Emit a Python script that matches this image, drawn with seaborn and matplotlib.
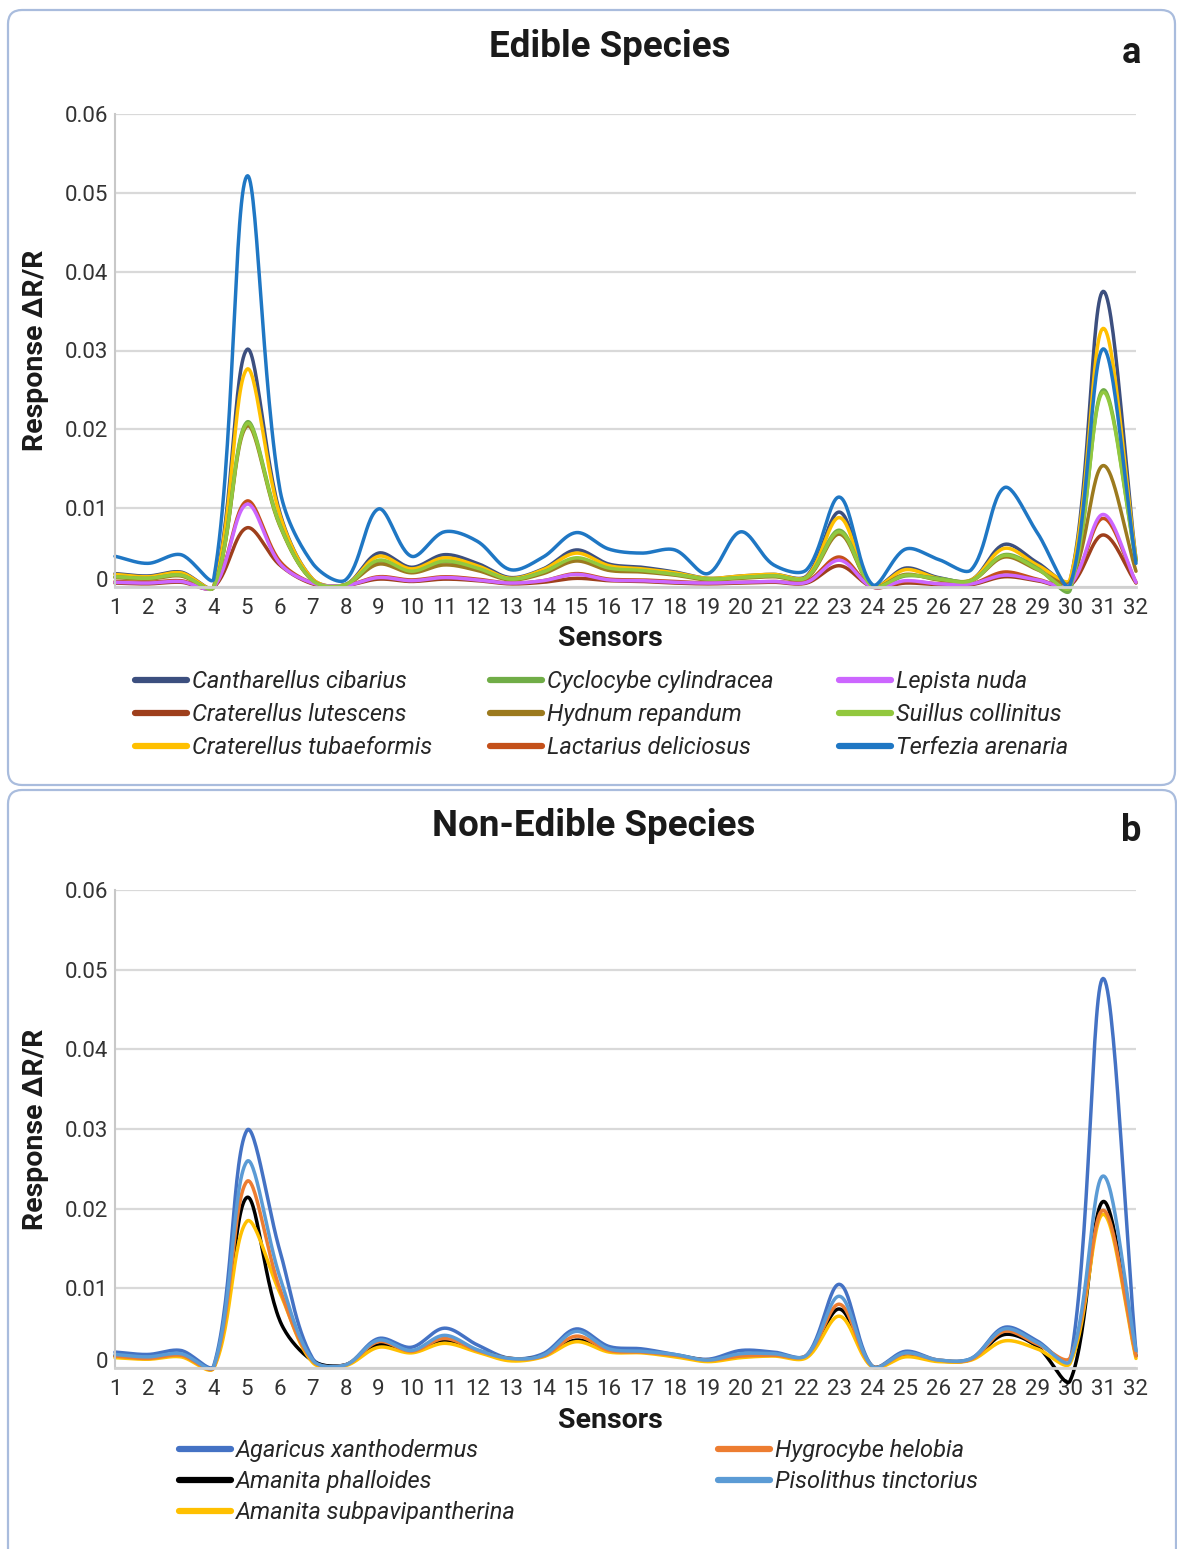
import numpy as np
import pandas as pd
import matplotlib
matplotlib.use("Agg")
import matplotlib.pyplot as plt
import seaborn as sns
from matplotlib import font_manager
from matplotlib.lines import Line2D
from matplotlib.patches import FancyBboxPatch
from matplotlib.transforms import ScaledTranslation

# ---------------- data ----------------
sensors = list(range(1, 33))
y_ticks = [0, 0.01, 0.02, 0.03, 0.04, 0.05, 0.06]
y_tick_labels = ["0", "0.01", "0.02", "0.03", "0.04", "0.05", "0.06"]

edible_names = ["Cantharellus cibarius", "Craterellus lutescens", "Craterellus tubaeformis",
                "Cyclocybe cylindracea", "Hydnum repandum", "Lactarius deliciosus",
                "Lepista nuda", "Suillus collinitus", "Terfezia arenaria"]

cantharellus_cibarius = [0.0017, 0.0014, 0.0019, 0.0001, 0.0301, 0.0095, 0.0010, 0.0003, 0.0043, 0.0025,
                         0.0041, 0.0030, 0.0012, 0.0023, 0.0047, 0.0029, 0.0025, 0.0019, 0.0011, 0.0014,
                         0.0016, 0.0014, 0.0095, 0.0001, 0.0024, 0.0012, 0.0009, 0.0054, 0.0031, 0.0008,
                         0.0375, 0.0035]
craterellus_lutescens = [0.0005, 0.0004, 0.0006, 0.0000, 0.0075, 0.0028, 0.0004, 0.0002, 0.0010, 0.0007,
                         0.0010, 0.0008, 0.0004, 0.0006, 0.0011, 0.0008, 0.0007, 0.0005, 0.0004, 0.0005,
                         0.0006, 0.0005, 0.0027, 0.0000, 0.0005, 0.0003, 0.0003, 0.0013, 0.0008, 0.0002,
                         0.0066, 0.0005]
craterellus_tubaeformis = [0.0016, 0.0013, 0.0018, 0.0001, 0.0276, 0.0092, 0.0010, 0.0003, 0.0039, 0.0023,
                           0.0037, 0.0027, 0.0011, 0.0022, 0.0043, 0.0027, 0.0023, 0.0018, 0.0011, 0.0014,
                           0.0016, 0.0013, 0.0088, 0.0001, 0.0022, 0.0011, 0.0009, 0.0049, 0.0028, 0.0010,
                           0.0328, 0.0036]
cyclocybe_cylindracea = [0.0013, 0.0011, 0.0015, 0.0000, 0.0209, 0.0080, 0.0008, 0.0003, 0.0033, 0.0019,
                         0.0032, 0.0023, 0.0010, 0.0019, 0.0036, 0.0023, 0.0020, 0.0016, 0.0010, 0.0012,
                         0.0014, 0.0012, 0.0072, 0.0001, 0.0014, 0.0011, 0.0008, 0.0041, 0.0024, -0.0004,
                         0.0250, 0.0034]
hydnum_repandum = [0.0012, 0.0010, 0.0014, 0.0000, 0.0204, 0.0078, 0.0008, 0.0003, 0.0029, 0.0018,
                   0.0028, 0.0021, 0.0009, 0.0017, 0.0033, 0.0021, 0.0019, 0.0015, 0.0009, 0.0011,
                   0.0013, 0.0011, 0.0067, 0.0001, 0.0016, 0.0009, 0.0008, 0.0038, 0.0022, 0.0006,
                   0.0154, 0.0020]
lactarius_deliciosus = [0.0007, 0.0006, 0.0008, 0.0000, 0.0109, 0.0033, 0.0005, 0.0002, 0.0013, 0.0009,
                        0.0013, 0.0010, 0.0005, 0.0008, 0.0017, 0.0010, 0.0009, 0.0007, 0.0005, 0.0006,
                        0.0007, 0.0007, 0.0038, 0.0000, 0.0007, 0.0004, 0.0004, 0.0019, 0.0010, 0.0003,
                        0.0087, 0.0006]
lepista_nuda = [0.0006, 0.0005, 0.0007, 0.0000, 0.0105, 0.0030, 0.0005, 0.0002, 0.0012, 0.0008,
                0.0012, 0.0009, 0.0005, 0.0008, 0.0016, 0.0009, 0.0008, 0.0006, 0.0005, 0.0006,
                0.0007, 0.0006, 0.0034, 0.0000, 0.0008, 0.0004, 0.0004, 0.0015, 0.0009, 0.0003,
                0.0092, 0.0006]
suillus_collinitus = [0.0013, 0.0011, 0.0015, 0.0000, 0.0207, 0.0079, 0.0008, 0.0003, 0.0034, 0.0020,
                      0.0033, 0.0024, 0.0010, 0.0019, 0.0037, 0.0024, 0.0021, 0.0016, 0.0010, 0.0012,
                      0.0014, 0.0012, 0.0070, 0.0001, 0.0015, 0.0010, 0.0008, 0.0040, 0.0023, 0.0000,
                      0.0247, 0.0033]
terfezia_arenaria = [0.0039, 0.0030, 0.0041, 0.0011, 0.0521, 0.0125, 0.0030, 0.0009, 0.0099, 0.0039,
                     0.0070, 0.0058, 0.0022, 0.0038, 0.0069, 0.0048, 0.0043, 0.0047, 0.0017, 0.0070,
                     0.0028, 0.0022, 0.0114, 0.0003, 0.0048, 0.0035, 0.0022, 0.0126, 0.0069, 0.0003,
                     0.0302, 0.0030]

nonedible_names = ["Agaricus xanthodermus", "Amanita phalloides", "Amanita subpavipantherina",
                   "Hygrocybe helobia", "Pisolithus tinctorius"]

agaricus_xanthodermus = [0.0020, 0.0017, 0.0022, 0.0003, 0.0298, 0.0148, 0.0012, 0.0004, 0.0037, 0.0026,
                         0.0050, 0.0029, 0.0012, 0.0018, 0.0049, 0.0027, 0.0024, 0.0017, 0.0011, 0.0022,
                         0.0020, 0.0016, 0.0105, 0.0002, 0.0021, 0.0010, 0.0012, 0.0051, 0.0034, 0.0008,
                         0.0489, 0.0020]
amanita_phalloides = [0.0015, 0.0012, 0.0016, 0.0001, 0.0214, 0.0060, 0.0009, 0.0004, 0.0029, 0.0021,
                      0.0035, 0.0022, 0.0012, 0.0015, 0.0035, 0.0022, 0.0020, 0.0016, 0.0010, 0.0015,
                      0.0016, 0.0015, 0.0074, 0.0002, 0.0017, 0.0009, 0.0011, 0.0042, 0.0027, -0.0016,
                      0.0209, 0.0015]
amanita_subpavipantherina = [0.0013, 0.0011, 0.0014, 0.0000, 0.0184, 0.0095, 0.0007, 0.0003, 0.0026, 0.0019,
                             0.0031, 0.0020, 0.0009, 0.0014, 0.0033, 0.0020, 0.0019, 0.0014, 0.0008, 0.0013,
                             0.0015, 0.0013, 0.0065, 0.0001, 0.0014, 0.0008, 0.0010, 0.0034, 0.0024, 0.0006,
                             0.0193, 0.0012]
hygrocybe_helobia = [0.0015, 0.0012, 0.0016, 0.0001, 0.0234, 0.0100, 0.0009, 0.0004, 0.0033, 0.0021,
                     0.0037, 0.0022, 0.0012, 0.0015, 0.0040, 0.0022, 0.0020, 0.0016, 0.0010, 0.0015,
                     0.0016, 0.0016, 0.0080, 0.0002, 0.0018, 0.0010, 0.0011, 0.0046, 0.0030, 0.0013,
                     0.0198, 0.0015]
pisolithus_tinctorius = [0.0017, 0.0014, 0.0018, 0.0002, 0.0259, 0.0115, 0.0010, 0.0004, 0.0035, 0.0022,
                         0.0041, 0.0023, 0.0012, 0.0016, 0.0046, 0.0024, 0.0021, 0.0017, 0.0010, 0.0018,
                         0.0018, 0.0016, 0.0090, 0.0002, 0.0019, 0.0010, 0.0012, 0.0049, 0.0032, 0.0009,
                         0.0241, 0.0022]

edible_series = [cantharellus_cibarius, craterellus_lutescens, craterellus_tubaeformis,
                 cyclocybe_cylindracea, hydnum_repandum, lactarius_deliciosus,
                 lepista_nuda, suillus_collinitus, terfezia_arenaria]
edible_colors = ["#3C4F7F", "#9E3F1C", "#FFC000", "#70AD47", "#9C7A1E",
                 "#C4501A", "#CC66FF", "#92C83E", "#1F77C4"]

nonedible_series = [agaricus_xanthodermus, amanita_phalloides, amanita_subpavipantherina,
                    hygrocybe_helobia, pisolithus_tinctorius]
nonedible_colors = ["#4472C4", "#000000", "#FFC000", "#ED7D31", "#5B9BD5"]

# ---------------- style ----------------
sns.set_theme(style="white")
plt.rcParams["font.family"] = ["Roboto", "DejaVu Sans"]


def has_font(name):
    try:
        font_manager.findfont(font_manager.FontProperties(family=name), fallback_to_default=False)
        return True
    except Exception:
        return False


if has_font("Liberation Sans Narrow"):
    legend_font = dict(family="Liberation Sans Narrow", style="italic", size=18)
else:
    legend_font = dict(family="Roboto", style="italic", size=17)

W, H = 1177, 1549
fig = plt.figure(figsize=(W / 100, H / 100), dpi=100)
fig.patch.set_facecolor("white")


def fx(px):
    return px / W


def fy(py):
    return 1 - py / H


SX, SY = 33.0, 7900.0   # approximate screen scale used for the smoothing weights


def smooth_frame(names, series, n=30):
    """Excel-style smoothed line: Bezier segments with distance-weighted tangents."""
    rows = []
    for name, vals in zip(names, series):
        P = np.column_stack([np.asarray(sensors, float) * SX, np.asarray(vals, float) * SY])
        N = len(P)
        d = np.linalg.norm(np.diff(P, axis=0), axis=1)          # segment lengths
        xs, ys = [], []
        for i in range(N - 1):
            p1, p2 = P[i], P[i + 1]
            p0 = P[i - 1] if i > 0 else P[i]
            p3 = P[i + 2] if i + 2 < N else P[i + 1]
            db = d[i - 1] if i > 0 else 0.0
            df_ = d[i + 1] if i + 2 < N else 0.0
            f1 = d[i] / (db + d[i]) / 3.0
            f2 = d[i] / (d[i] + df_) / 3.0
            c1 = p1 + (p2 - p0) * f1
            c2 = p2 - (p3 - p1) * f2
            t = np.linspace(0, 1, n, endpoint=(i == N - 2))[:, None]
            b = (1 - t) ** 3 * p1 + 3 * (1 - t) ** 2 * t * c1 + 3 * (1 - t) * t ** 2 * c2 + t ** 3 * p2
            xs.append(b[:, 0] / SX)
            ys.append(b[:, 1] / SY)
        rows.append(pd.DataFrame({"Sensor": np.concatenate(xs), "Response": np.concatenate(ys),
                                  "Species": name}))
    return pd.concat(rows, ignore_index=True)


def draw_panel(rect, names, series, colors, label_y):
    ax = fig.add_axes(rect)
    df = smooth_frame(names, series)
    sns.lineplot(data=df, x="Sensor", y="Response", hue="Species", hue_order=names,
                 palette=dict(zip(names, colors)), estimator=None, sort=False,
                 linewidth=2.5, legend=False, ax=ax)
    for ln in ax.get_lines():
        ln.set_clip_on(False)
        ln.set_solid_capstyle("round")
        ln.set_solid_joinstyle("round")
    ax.set_xlim(1, 32)
    ax.set_ylim(0, 0.06)
    ax.set_xticks(sensors)
    ax.set_xticklabels([str(s) for s in sensors])
    ax.set_yticks(y_ticks)
    ax.set_yticklabels(y_tick_labels)
    ax.tick_params(axis="both", length=0, labelsize=16, colors="#333333")
    ax.tick_params(axis="x", pad=8)
    ax.tick_params(axis="y", pad=5)
    ax.yaxis.grid(True, color="#D9D9D9", linewidth=1.6)
    ax.xaxis.grid(False)
    ax.set_axisbelow(True)
    for s in ["top", "right"]:
        ax.spines[s].set_visible(False)
    ax.spines["left"].set_color("#C8C8C8")
    ax.spines["left"].set_linewidth(1.5)
    ax.spines["bottom"].set_color("#D0D0D0")
    ax.spines["bottom"].set_linewidth(2.0)
    ax.set_xlabel("Sensors", fontsize=20.5, fontweight="bold", color="#1a1a1a")
    ax.xaxis.set_label_coords((610 - 115) / 1021, label_y)
    ax.xaxis.label.set_va("center")
    ax.set_ylabel("Response ΔR/R", fontsize=20.5, fontweight="bold", color="#1a1a1a")
    ax.yaxis.set_label_coords((35 - 115) / 1021, 0.5)
    ax.yaxis.label.set_va("center")
    # Excel-like placement of the "0" label slightly above the baseline
    lbl0 = ax.get_yticklabels()[0]
    lbl0.set_transform(lbl0.get_transform() + ScaledTranslation(0, 8 / 100, fig.dpi_scale_trans))
    return ax


# panel frames (pixel coordinates)
for (x0, y0, x1, y1) in [(8, 10, 1175, 785), (8, 790, 1176, 1580)]:
    box = FancyBboxPatch((x0, H - y1), x1 - x0, y1 - y0,
                         boxstyle="round,pad=0,rounding_size=14",
                         transform=None, facecolor="white", edgecolor="#A9BCDD",
                         linewidth=1.6, zorder=0)
    fig.add_artist(box)

ax_a = draw_panel([fx(115), fy(587), fx(1136) - fx(115), fy(114) - fy(587)],
                  edible_names, edible_series, edible_colors, -51 / 473)
ax_b = draw_panel([fx(115), fy(1368), fx(1136) - fx(115), fy(890) - fy(1368)],
                  nonedible_names, nonedible_series, nonedible_colors, -52 / 478)

fig.text(fx(610), fy(47), "Edible Species", ha="center", va="center",
         fontsize=26.5, fontweight="bold", color="#1a1a1a")
fig.text(fx(594), fy(826), "Non-Edible Species", ha="center", va="center",
         fontsize=26.5, fontweight="bold", color="#1a1a1a")
fig.text(fx(1131), fy(53), "a", ha="center", va="center", fontsize=26, fontweight="bold", color="#1a1a1a")
fig.text(fx(1131), fy(831), "b", ha="center", va="center", fontsize=26, fontweight="bold", color="#1a1a1a")


def column_legend(names, colors, x_px, top_px, spacing):
    handles = [Line2D([0], [0], color=c, linewidth=4.5) for c in colors]
    leg = fig.legend(handles, names, loc="upper left", bbox_to_anchor=(fx(x_px), fy(top_px)),
                     frameon=False, borderpad=0, borderaxespad=0, handlelength=2.2,
                     handletextpad=0.2, labelspacing=spacing, prop=legend_font)
    for t in leg.get_texts():
        t.set_color("#262626")
    return leg


# edible legend: 3 columns
for col in range(3):
    idx = list(range(col * 3, col * 3 + 3))
    column_legend([edible_names[i] for i in idx], [edible_colors[i] for i in idx],
                  [135, 490, 839][col], 670, 0.42)

# non-edible legend: 2 columns
column_legend(nonedible_names[:3], nonedible_colors[:3], 179, 1439, 0.34)
column_legend(nonedible_names[3:], nonedible_colors[3:], 718, 1439, 0.34)

fig.savefig("out.png", dpi=100, facecolor="white")
